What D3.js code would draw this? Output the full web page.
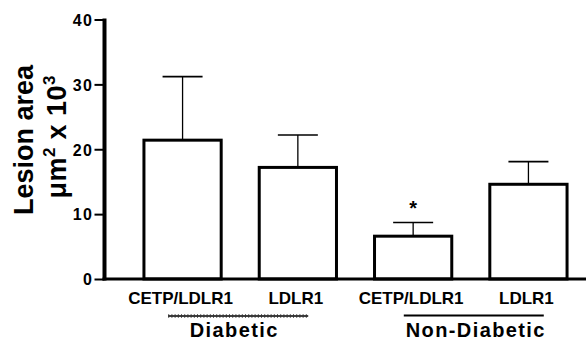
<!DOCTYPE html>
<html><head><meta charset="utf-8">
<script src="https://cdn.jsdelivr.net/npm/d3@7"></script>
<style>body{margin:0;background:#fff}svg{display:block}text{font-family:"Liberation Sans",Arial,sans-serif;font-weight:bold}</style>
</head><body><svg id="c" width="586" height="343"></svg>
<script>
const categories = ["CETP/LDLR1","LDLR1","CETP/LDLR1","LDLR1"];
const means = [21.4, 17.2, 6.6, 14.6];
const errors = [9.8, 5.0, 2.1, 3.5];
const significant = [false, false, true, false];
const groups = ["Diabetic","Non-Diabetic"];
const groupMembers = [[0,1],[2,3]];
const yTicks = [0,10,20,30,40];

const svg = d3.select("#c");
const x0 = 104.5, xEnd = 586, yTop = 19.5, yBot = 279;
const y = d3.scaleLinear().domain([0,40]).range([yBot,yTop]);
const x = d3.scaleBand().domain(d3.range(categories.length)).range([125.5,585.5]).paddingInner(0.33).paddingOuter(0.16);

const g = svg.append("g");
categories.forEach((c,i)=>{
  const cx = x(i)+x.bandwidth()/2;
  g.append("line").attr("x1",cx).attr("x2",cx).attr("y1",y(means[i])).attr("y2",y(means[i]+errors[i])).attr("stroke","#000").attr("stroke-width",1.3);
  g.append("line").attr("x1",cx-20).attr("x2",cx+20).attr("y1",y(means[i]+errors[i])).attr("y2",y(means[i]+errors[i])).attr("stroke","#000").attr("stroke-width",1.6);
  g.append("rect").attr("x",x(i)).attr("y",y(means[i])).attr("width",x.bandwidth()).attr("height",y(0)-y(means[i]))
    .attr("fill","#fff").attr("stroke","#000").attr("stroke-width",3);
  if(significant[i]) g.append("text").attr("x",cx).attr("y",y(means[i]+errors[i])-8).attr("text-anchor","middle").attr("font-size",20).text("*");
  svg.append("text").attr("x",cx-2).attr("y",304).attr("text-anchor","middle").attr("font-size",17).text(c);
});

// y axis
const ya = svg.append("g").attr("transform",`translate(${x0},0)`)
  .call(d3.axisLeft(y).tickValues(yTicks).tickSize(10).tickPadding(1));
ya.select(".domain").remove();
ya.selectAll(".tick line").attr("stroke","#000").attr("stroke-width",2);
ya.selectAll(".tick text").attr("font-size",16).attr("letter-spacing","1.5px").attr("font-family","Liberation Sans, Arial, sans-serif").attr("font-weight","bold").attr("fill","#000").attr("dy","0.36em");
svg.append("line").attr("x1",x0).attr("x2",x0).attr("y1",yTop-1).attr("y2",yBot+1.5).attr("stroke","#000").attr("stroke-width",4);
svg.append("line").attr("x1",x0-2).attr("x2",xEnd).attr("y1",yBot).attr("y2",yBot).attr("stroke","#000").attr("stroke-width",3);

// y label
const yl = svg.append("text").attr("transform","translate(0,140) rotate(-90)").attr("text-anchor","middle");
yl.append("tspan").attr("x",0).attr("y",33).attr("font-size",27).text("Lesion area");
yl.append("tspan").attr("x",3).attr("y",66).attr("font-size",27).attr("letter-spacing","0.5px").text("μm");
yl.append("tspan").attr("font-size",17).attr("dy",-11).text("2");
yl.append("tspan").attr("font-size",27).attr("dy",11).attr("letter-spacing","0.5px").text(" x 10");
yl.append("tspan").attr("font-size",17).attr("dy",-11).text("3");

// groups
const labelShift = [-6, 5];
groups.forEach((gname,k)=>{
  const m = groupMembers[k];
  const cx = (x(m[0])+x(m[m.length-1])+x.bandwidth())/2;
  const lc = cx + (k===0?-2:3);
  if(k===0){
    svg.append("line").attr("x1",lc-70).attr("x2",lc+70).attr("y1",316).attr("y2",316).attr("stroke","#000").attr("stroke-width",1.4);
    svg.append("line").attr("x1",lc-70).attr("x2",lc+70).attr("y1",316).attr("y2",316).attr("stroke","#333").attr("stroke-width",3.5).attr("stroke-dasharray","1,2.2");
  } else {
    svg.append("line").attr("x1",lc-70).attr("x2",lc+70).attr("y1",315.5).attr("y2",315.5).attr("stroke","#000").attr("stroke-width",2.2);
  }
  svg.append("text").attr("x",cx+labelShift[k]).attr("y",337).attr("text-anchor","middle").attr("font-size",20).attr("letter-spacing","1.4px").text(gname);
});
</script></body></html>
